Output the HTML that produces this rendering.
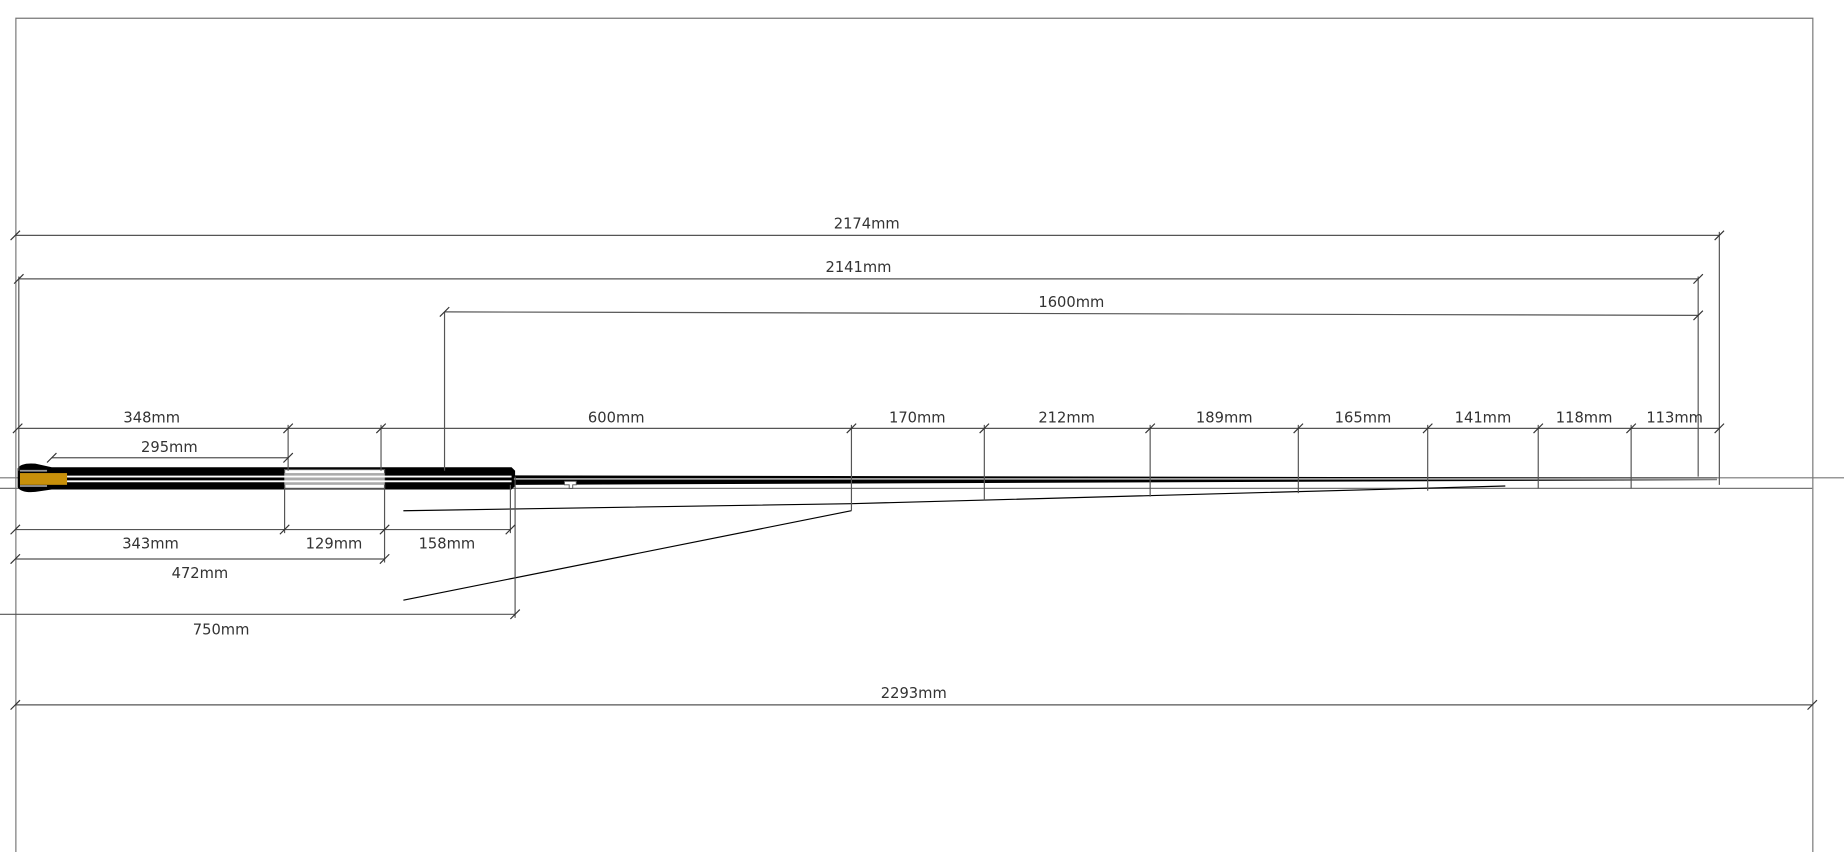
<!DOCTYPE html>
<html><head><style>html,body{margin:0;padding:0;background:#fff;width:1844px;height:852px;overflow:hidden}svg{display:block}text{font-family:"DejaVu Sans","Liberation Sans",sans-serif;font-size:12.5px;fill:#333;text-anchor:middle}</style></head>
<body>
<svg width="1844" height="852" viewBox="0 0 1568 724" preserveAspectRatio="none" xmlns="http://www.w3.org/2000/svg">
<g stroke="#777" stroke-width="1" fill="none">
<path d="M13.5 724V15.5H1541.5V724"/>
<path d="M0 406H1568M0 415H1541"/>
</g>
<!-- rod -->
<path d="M15 398Q18 393 30 394L44 397H435L438 400V413L435 416H44L30 418Q18 419 15 414Z" fill="#000"/>
<rect x="242" y="399" width="85" height="16" fill="#fff" stroke="#555"/>
<rect x="242" y="402" width="85" height="10" fill="#aaa"/>
<rect x="17" y="402" width="40" height="10" fill="#c8900a"/>
<path d="M17 400H40M17 413H40" stroke="#999" stroke-width="1.5"/>
<path d="M57 405H435M57 409H435" stroke="#fff" stroke-width="1.6"/>
<path d="M437 404L1460 406L1460 408L437 412Z" fill="#000"/>
<path d="M437 407H1460" stroke="#fff" stroke-width="1"/>
<path d="M480 409h10v3h-3v3h-3v-3h-4z" fill="#fff" stroke="#555" stroke-width="0.8"/>
<g stroke="#000" stroke-width="1" fill="none">
<path d="M343 434L724 428L1280 413"/>
<path d="M343 510L724 434"/>
</g>
<g stroke="#555" stroke-width="1" fill="none">
<path d="M13 200H1462M16 237H1444M378 265L1444 268"/>
<path d="M1462 197V412M16 235V400M1444 235V405M378 265V400"/>
<path d="M15 364H1462M44 389H245"/>
<path d="M245 361V400M324 361V400M724 361V434M837 361V425M978 361V422M1104 361V419M1214 361V417M1308 361V415M1387 361V415"/>
<path d="M13 450H434M13 475H327M0 522H438M13 599H1541"/>
<path d="M242 412V453M327 412V478M434 412V453M438 405V525"/>
</g>
<g stroke="#333" stroke-width="1">
<path d="M9 204l8-8M1458 204l8-8M12 241l8-8M1440 241l8-8M374 269l8-8M1440 272l8-8"/>
<path d="M11 368l8-8M241 368l8-8M320 368l8-8M720 368l8-8M833 368l8-8M974 368l8-8M1100 368l8-8M1210 368l8-8M1304 368l8-8M1383 368l8-8M1458 368l8-8M40 393l8-8M241 393l8-8"/>
<path d="M9 454l8-8M238 454l8-8M323 454l8-8M430 454l8-8M9 479l8-8M323 479l8-8M434 526l8-8M9 603l8-8M1537 603l8-8"/>
</g>
<text x="737" y="194">2174mm</text>
<text x="730" y="231">2141mm</text>
<text x="911" y="261">1600mm</text>
<text x="129" y="359">348mm</text>
<text x="524" y="359">600mm</text>
<text x="780" y="359">170mm</text>
<text x="907" y="359">212mm</text>
<text x="1041" y="359">189mm</text>
<text x="1159" y="359">165mm</text>
<text x="1261" y="359">141mm</text>
<text x="1347" y="359">118mm</text>
<text x="1424" y="359">113mm</text>
<text x="144" y="384">295mm</text>
<text x="128" y="466">343mm</text>
<text x="284" y="466">129mm</text>
<text x="380" y="466">158mm</text>
<text x="170" y="491">472mm</text>
<text x="188" y="539">750mm</text>
<text x="777" y="593">2293mm</text>
</svg>
</body></html>
